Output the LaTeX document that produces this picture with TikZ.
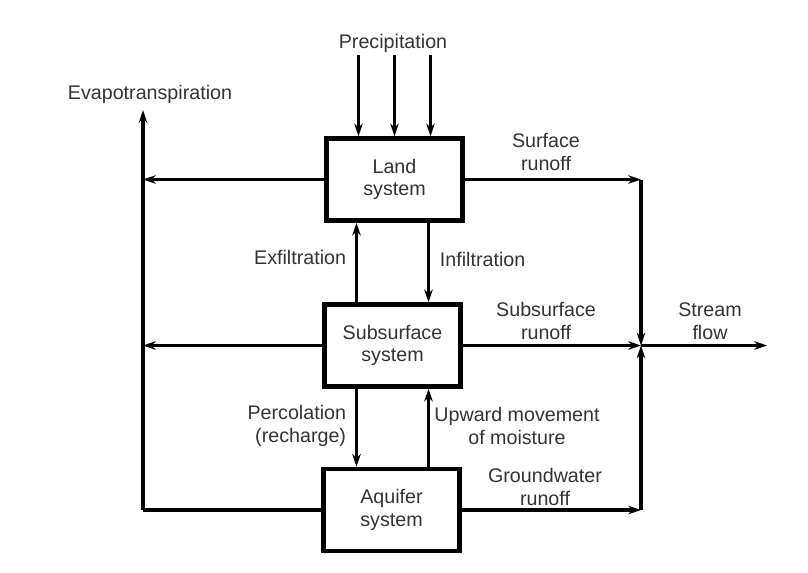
\documentclass[tikz,border=0pt]{standalone}
\usepackage{fontspec}
\setmainfont{Liberation Sans}
\usetikzlibrary{arrows.meta,positioning}
\tikzset{>={Stealth[length=9pt,width=6pt]}}

\begin{document}
\begin{tikzpicture}[x=0.025cm,y=-0.025cm,
  box/.style={draw,line width=3.2pt,minimum width=3.4cm,minimum height=2.05cm,
    align=center,text=black!80,font=\fontsize{14}{16}\selectfont},
  flow/.style={line width=2.8pt},
  lbl/.style={align=center,text=black!80,font=\fontsize{14}{16}\selectfont}]
\useasboundingbox (0,0) rectangle (808,572);
% the three storages
\node[box] (land) at (394.5,179.5) {Land\\system};
\node[box] (sub) at (392.5,345.5) {Subsurface\\system};
\node[box] (aq) at (391.5,510) {Aquifer\\system};
% free ends
\coordinate (prec) at (394.5,55);
\coordinate (et) at (143,110);
\coordinate (jn) at (641,345.5);
\coordinate (sf) at (767,345.5);
% precipitation
\node[lbl] (precl) at (393,43) {Precipitation};
\foreach \dx in {-0.9,0,0.9}
\draw[flow,->] ([xshift=\dx cm]land.north |- prec) -- ([xshift=\dx cm]land.north);
% evapotranspiration
\node[lbl] (etl) at (150,94) {Evapotranspiration};
\draw[flow,->] (aq.west -| et) -- (et);
\draw[flow,->] (land.west) -- (land.west -| et);
\draw[flow,->] (sub.west) -- (sub.west -| et);
\draw[flow] (aq.west) -- (aq.west -| et);
% exchange between storages
\draw[flow,->] ([xshift=-0.9cm]sub.north) -- ([xshift=-0.9cm]sub.north |- land.south);
\draw[flow,->] ([xshift=0.9cm]sub.north |- land.south) -- ([xshift=0.9cm]sub.north);
\draw[flow,->] ([xshift=-0.9cm]sub.south) -- ([xshift=-0.9cm]sub.south |- aq.north);
\draw[flow,->] ([xshift=0.9cm]sub.south |- aq.north) -- ([xshift=0.9cm]sub.south);
\node[lbl,anchor=east] (exl) at (351,257) {Exfiltration};
\node[lbl,anchor=west] (infl) at (435,259) {Infiltration};
\node[lbl,anchor=east,align=right] (perl) at (351,426) {Percolation\\(recharge)};
\node[lbl] (upl) at (517,426) {Upward movement\\of moisture};
% runoff to stream
\draw[flow,->] (land.east) -- (land.east -| jn);
\draw[flow,->] (land.east -| jn) -- (jn);
\draw[flow,->] (sub.east) -- (jn);
\draw[flow,->] (aq.east) -- (aq.east -| jn);
\draw[flow,->] (aq.east -| jn) -- (jn);
\draw[flow,->] (jn) -- (sf);
\node[lbl] (srl) at (546,152) {Surface\\runoff};
\node[lbl] (ssl) at (546,321) {Subsurface\\runoff};
\node[lbl] (gwl) at (545,487) {Groundwater\\runoff};
\node[lbl] (sfl) at (710,321) {Stream\\flow};
\end{tikzpicture}
\end{document}
